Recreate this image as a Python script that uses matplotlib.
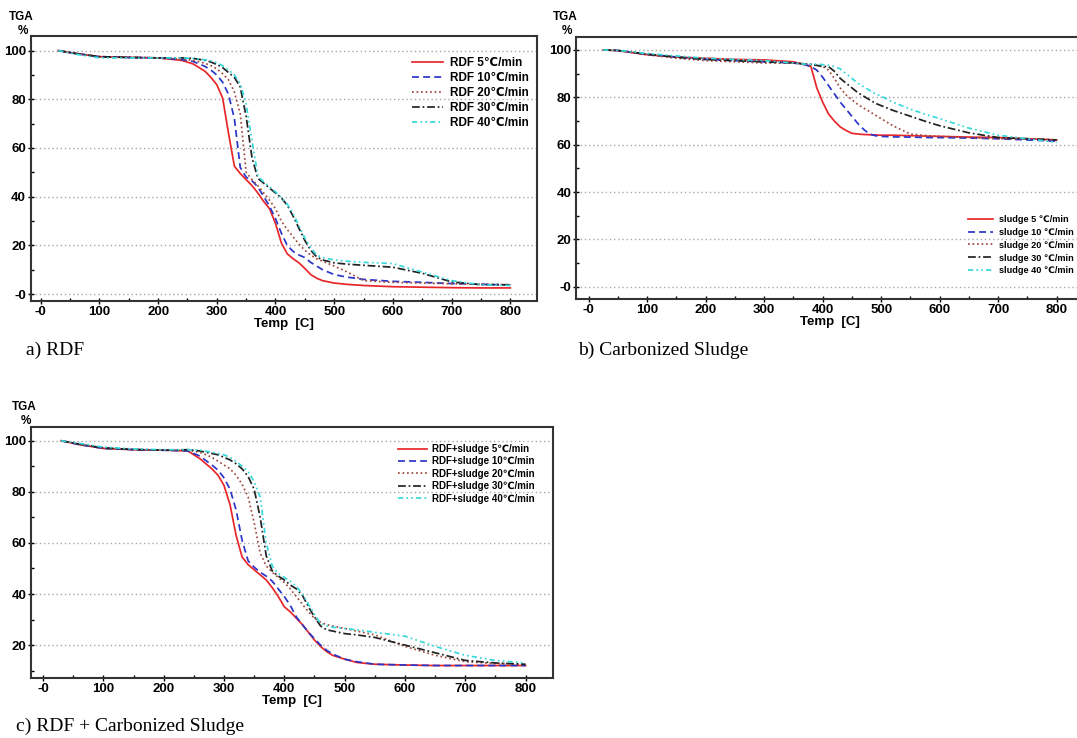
import matplotlib
matplotlib.use('Agg')
import matplotlib.pyplot as plt
from matplotlib import font_manager

T_a = [30, 60, 100, 150, 200, 240, 260, 280, 290, 300, 310, 320, 330, 340, 350, 360, 370, 380,
       390, 400, 410, 420, 430, 440, 450, 460, 470, 480, 500, 520, 550, 600, 650, 700, 750, 800]
T_b = [25, 50, 100, 150, 200, 250, 300, 350, 370, 380, 390, 400, 410, 420, 430, 440, 450, 460,
       470, 480, 490, 500, 520, 550, 580, 600, 650, 700, 750, 800]
T_c = T_a

# a) RDF, weight %
rdf_5 = [100, 98.8, 97.5, 97.2, 97, 96, 94.5, 91.5, 89, 86, 80.5, 66, 52.5, 49.5, 47, 44.5, 41.5, 38,
         35, 29, 21, 16.5, 14.5, 12.8, 10.5, 8, 6.5, 5.5, 4.5, 4, 3.5, 3, 2.8, 2.6, 2.5, 2.5]
rdf_10 = [100, 98.8, 97.5, 97.2, 97, 96.3, 95.5, 93.5, 92, 90, 87, 82, 72, 52, 48, 46.5, 44, 40,
          36, 31, 25, 20, 17.5, 16, 15, 13, 11.5, 10, 8, 7, 6, 5.2, 4.8, 4.3, 4, 3.7]
rdf_20 = [100, 98.8, 97.5, 97.2, 97, 96.5, 96, 94.8, 93.8, 92.5, 90.5, 88, 83, 74, 50, 47, 44.5, 41.5,
          38.5, 35, 30, 26.5, 23.5, 20.5, 18, 16, 14.5, 13.5, 11.5, 9.3, 5.5, 4.8, 4.5, 4.2, 4, 3.8]
rdf_30 = [100, 98.8, 97.5, 97.2, 97, 97, 96.8, 96, 95.3, 94.3, 93, 91, 89, 85, 73, 56, 47.5, 45.5,
          43.5, 41.5, 39.5, 36.5, 32, 27, 22, 18, 15.3, 14, 12.8, 12.3, 11.8, 11, 8.5, 5, 3.8, 3.8]
rdf_40 = [100, 98.5, 97, 97, 97, 97, 96.8, 96.2, 95.8, 95, 93.8, 92, 90, 86.5, 78, 63, 48.5, 46,
          44, 42, 39.5, 37, 33, 28, 23, 19, 16, 15, 14, 13.5, 13, 12.5, 9, 5.5, 3.8, 3.5]

# b) carbonized sludge
sludge_5 = [100, 99.7, 98, 97, 96.5, 96, 95.8, 95, 93.8, 93, 84, 78, 73, 70, 67.5, 66, 64.8, 64.5,
            64.3, 64.2, 64.1, 64, 64, 63.8, 63.6, 63.5, 63.2, 63, 62.5, 62]
sludge_10 = [100, 99.8, 98.2, 97, 96, 95.5, 95, 94.5, 93.8, 93, 91.5, 88.5, 85, 81.5, 78, 75, 72, 69,
             66.5, 64.5, 63.8, 63.5, 63.3, 63.2, 63, 63, 62.8, 62.5, 62, 61.5]
sludge_20 = [100, 99.8, 98, 96.5, 95.5, 95, 94.5, 94.5, 94.2, 94, 93.5, 93, 91.5, 88, 84, 81, 79, 77,
             75.5, 74, 72.5, 71, 68, 64.5, 63.8, 63.5, 63, 62.5, 62.5, 62]
sludge_30 = [100, 99.8, 98.2, 97, 96, 95.5, 95, 94.5, 94, 93.8, 93.5, 93, 93, 91, 88, 86, 84, 82,
             80.5, 79, 77.5, 76.5, 74.5, 72, 69.5, 68, 65, 63, 62.5, 62]
sludge_40 = [100, 99.8, 98.5, 97.5, 96.5, 96, 95.5, 94.5, 94, 94, 94, 93.8, 93.5, 93, 92, 90, 88, 86,
             84.5, 83, 81.5, 80.5, 78, 75, 72.5, 71, 67, 64, 62.5, 61]

# c) RDF + carbonized sludge
mix_5 = [100, 98.5, 97, 96.5, 96.3, 96, 93, 89, 86.5, 82.5, 75, 63, 54.5, 51.5, 49.5, 47.5, 45.5, 42.5,
         39, 35, 33, 30.5, 28, 25, 22, 19.5, 17.5, 16, 14.5, 13.2, 12.5, 12.2, 12, 12, 12, 12]
mix_10 = [100, 98.5, 97, 96.5, 96.3, 96, 94, 90.5, 88.5, 85.5, 81, 73, 61, 53, 50.5, 48.5, 47, 45,
          42, 39, 35.5, 31, 28, 25, 22.5, 20, 18, 16.5, 14.5, 13.5, 12.5, 12.2, 12, 12, 12, 12]
mix_20 = [100, 98.7, 97.2, 96.6, 96.3, 96.3, 95.5, 93.5, 92, 90.5, 89, 86.5, 83, 78, 68, 56, 51, 48.5,
          46.5, 44.5, 42, 39, 36, 33, 30.5, 29, 28, 27.5, 26.5, 25.5, 24, 19.5, 16, 13.5, 12.8, 12.5]
mix_30 = [100, 98.7, 97.2, 96.6, 96.3, 96.5, 96, 95, 94.5, 93.5, 92.5, 91, 89, 86, 81, 70, 55, 49,
          47, 45.5, 43.5, 42, 39.5, 35, 31, 27.5, 26, 25.5, 24.5, 24, 23, 20, 17, 14, 13, 12.5]
mix_40 = [100, 99, 97.5, 96.8, 96.5, 96.5, 96.3, 95.5, 95, 94.5, 93.5, 92, 90, 88, 84, 78, 60, 51,
          48, 46.5, 45, 43, 40, 36, 32, 28.5, 27.5, 27, 26.5, 26, 25, 23.5, 19.5, 16, 14, 13]

rates = [5, 10, 20, 30, 40]
labels_a = ['RDF %d\u2103/min' % r for r in rates]
labels_b = ['sludge %d \u2103/min' % r for r in rates]
labels_c = ['RDF+sludge %d\u2103/min' % r for r in rates]

# narrow sans if installed, else Liberation Sans; DejaVu covers the degree-Celsius sign
names = {f.name for f in font_manager.fontManager.ttflist}
sans = next((n for n in ['Liberation Sans Narrow', 'Arial Narrow', 'Liberation Sans'] if n in names),
            'DejaVu Sans')
plt.rcParams['font.family'] = [sans, 'DejaVu Sans']
plt.rcParams['font.weight'] = 'bold'
plt.rcParams['axes.labelweight'] = 'bold'
serif = ['Liberation Serif', 'DejaVu Serif']

line_styles = [
    dict(color='#e8262a', linestyle='-'),
    dict(color='#2b35c8', linestyle=(0, (4, 2.4))),
    dict(color='#a04a3c', linestyle=(0, (1, 1.6))),
    dict(color='#222222', linestyle=(0, (4.5, 1.6, 1, 1.6))),
    dict(color='#36d8dc', linestyle=(0, (3, 1.8, 1, 1.8, 1, 1.8))),
]

W, H = 1077, 738
fig = plt.figure(figsize=(W / 100, H / 100), dpi=100)
fig.set_facecolor('white')


def px_axes(l, t, r, b):
    return fig.add_axes([l / W, 1 - b / H, (r - l) / W, (b - t) / H])


def style(ax, xlim, ylim, yticks):
    ax.set_xlim(*xlim)
    ax.set_ylim(*ylim)
    ax.set_xticks(range(0, 801, 100))
    ax.set_xticklabels(['-0'] + [str(v) for v in range(100, 801, 100)])
    ax.set_xticks(range(50, 801, 100), minor=True)
    ax.set_yticks(yticks)
    ax.set_yticklabels(['-0' if v == 0 else str(v) for v in yticks])
    ax.set_yticks([v for v in range(0, 101, 10) if v % 20 and v > ylim[0]], minor=True)
    ax.tick_params(which='major', direction='inout', length=5, width=1, labelsize=9.5, pad=1)
    ax.tick_params(which='minor', direction='in', length=2.5, width=1)
    ax.grid(axis='y', which='major', linestyle=(0, (1, 2)), color='#a8a8a8', lw=1)
    for s in ax.spines.values():
        s.set_linewidth(1.5)
        s.set_color('#333333')
    ax.set_xlabel('Temp  [C]', fontsize=9.5, labelpad=0)


def draw(ax, T, series, labels, leg_xy, fs, hl, hp, ls):
    for w, lab, st in zip(series, labels, line_styles):
        ax.plot(T, w, lw=1.25, label=lab, **st)
    ax.legend(loc='upper left', bbox_to_anchor=(leg_xy[0] / W, 1 - leg_xy[1] / H),
              bbox_transform=fig.transFigure, frameon=False, borderpad=0, borderaxespad=0,
              handlelength=hl, handletextpad=hp, labelspacing=ls,
              prop=dict(family=[sans, 'DejaVu Sans'], weight='bold', size=fs))


ax_a = px_axes(30.7, 36, 536.7, 300.7)
draw(ax_a, T_a, [rdf_5, rdf_10, rdf_20, rdf_30, rdf_40], labels_a, (412, 57), 8.5, 2.6, 0.6, 0.25)
style(ax_a, (-17, 845), (-2.75, 106), [0, 20, 40, 60, 80, 100])

ax_b = px_axes(576, 36.7, 1083, 299.3)
draw(ax_b, T_b, [sludge_5, sludge_10, sludge_20, sludge_30, sludge_40], labels_b, (968, 215), 6.6, 2.75, 0.6, 0.42)
style(ax_b, (-21.5, 845), (-5.3, 105.6), [0, 20, 40, 60, 80, 100])

ax_c = px_axes(31, 426.7, 552.7, 678.3)
draw(ax_c, T_c, [mix_5, mix_10, mix_20, mix_30, mix_40], labels_c, (398, 444), 7, 3.0, 0.5, 0.25)
style(ax_c, (-20, 845), (7.0, 105.5), [20, 40, 60, 80, 100])

# y-axis unit label above each panel
for x, y in [(21.5, 17), (565, 17), (24, 407)]:
    fig.text(x / W, 1 - y / H, 'TGA', ha='center', va='center', fontsize=8.5)
    fig.text((x + 1.5) / W, 1 - (y + 14) / H, '%', ha='center', va='center', fontsize=8.5)

# panel captions
fig.text(26 / W, 1 - 350 / H, 'a) RDF', family=serif, weight='normal', fontsize=14, va='center')
fig.text(578 / W, 1 - 350 / H, 'b) Carbonized Sludge', family=serif, weight='normal', fontsize=14, va='center')
fig.text(16 / W, 1 - 726 / H, 'c) RDF + Carbonized Sludge', family=serif, weight='normal', fontsize=14, va='center')

fig.savefig('out.png', dpi=100)
